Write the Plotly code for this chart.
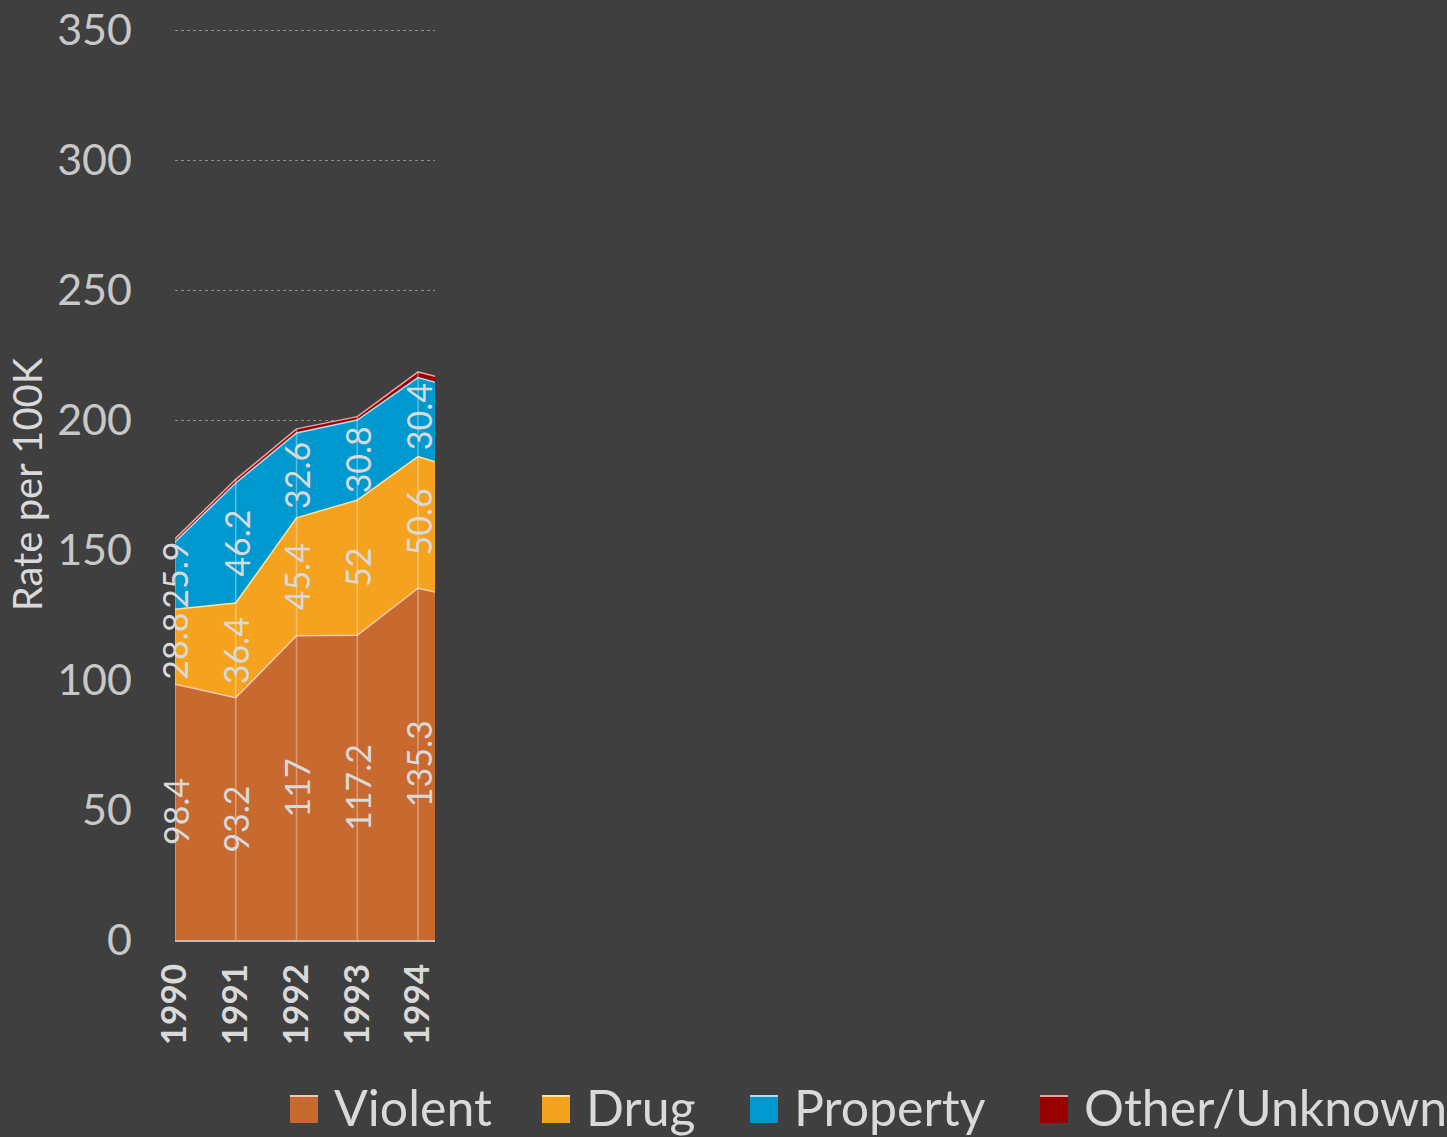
import plotly.graph_objects as go

years = [1990, 1991, 1992, 1993, 1994, 1995]
violent = [98.4, 93.2, 117, 117.2, 135.3, 130.0]
drug = [28.8, 36.4, 45.4, 52, 50.6, 49.0]
prop = [25.9, 46.2, 32.6, 30.8, 30.4, 31.0]
other = [1.2, 1.4, 1.6, 1.3, 2.2, 2.5]
label_years = [1990, 1991, 1992, 1993, 1994]
tick_vals = [1990, 1991, 1992, 1993, 1994]
tick_text = ["1990", "1991", "1992", "1993", "1994"]
y_ticks = [0, 50, 100, 150, 200, 250, 300, 350]

series = [
    ("Violent", violent, "#C8692F", "#F2C9B5"),
    ("Drug", drug, "#F5A31E", "#FFE3A0"),
    ("Property", prop, "#0099CF", "#A9DDF2"),
    ("Other/Unknown", other, "#990000", "#E8A3A3"),
]

FONT = "Lato"
TXT = "#D9D9D9"
BG = "#3F3F3F"

W, H = 1447, 1137
ML, MR, MT, MB = 175, 12, 29, 197
plot_w = W - ML - MR
plot_h = H - MT - MB

def px_x(px):
    return (px - ML) / plot_w

def px_y(py):
    return (H - MB - py) / plot_h

fig = go.Figure()
for name, vals, fc, lc in series:
    fig.add_trace(go.Scatter(
        x=years, y=vals, name=name, stackgroup="one", mode="lines",
        fillcolor=fc, line=dict(color=lc, width=1.5),
        hoverinfo="skip", showlegend=False,
    ))

# vertical drop lines inside the area
vx, vy = [], []
for i, yr in enumerate(years):
    tot = violent[i] + drug[i] + prop[i] + other[i]
    vx += [yr, yr, None]
    vy += [0, tot, None]
fig.add_trace(go.Scatter(x=vx, y=vy, mode="lines", showlegend=False,
                         line=dict(color="rgba(255,255,255,0.35)", width=1.5),
                         hoverinfo="skip"))

# value labels
for i, yr in enumerate(label_years):
    base = 0
    for name, vals, fc, lc in series[:3]:
        v = vals[i]
        fig.add_annotation(x=yr, y=base + v / 2, text=f"{v:g}", textangle=-90,
                           showarrow=False, xref="x", yref="y",
                           font=dict(family=FONT, size=34, color=TXT))
        base += v

# legend (drawn manually for large square swatches)
legend_left_px = [290, 542, 750, 1040]
sw = 28
cy = 1109
for (name, vals, fc, lc), lx in zip(series, legend_left_px):
    fig.add_shape(type="rect", xref="paper", yref="paper",
                  x0=px_x(lx), x1=px_x(lx + sw), y0=px_y(cy + sw / 2), y1=px_y(cy - sw / 2),
                  fillcolor=fc, line=dict(width=0), layer="above")
    fig.add_shape(type="line", xref="paper", yref="paper",
                  x0=px_x(lx), x1=px_x(lx + sw), y0=px_y(cy - sw / 2 + 1), y1=px_y(cy - sw / 2 + 1),
                  line=dict(color=lc, width=2), layer="above")
    fig.add_annotation(xref="paper", yref="paper", x=px_x(lx + 42), y=px_y(cy - 2),
                       xanchor="left", yanchor="middle", showarrow=False, text=name,
                       font=dict(family=FONT, size=50, color=TXT))

fig.update_layout(
    width=W, height=H,
    paper_bgcolor=BG, plot_bgcolor=BG,
    margin=dict(l=ML, r=MR, t=MT, b=MB, autoexpand=False),
    font=dict(family=FONT, color=TXT),
    showlegend=False,
    xaxis=dict(domain=[0, 260 / plot_w], range=[1990, 1994 + 17 / 61],
               tickvals=tick_vals, ticktext=[f"<b>{t}</b>" for t in tick_text],
               tickangle=-90, showgrid=False, zeroline=False, automargin=False,
               showline=True, linecolor="#BFBFBF", linewidth=2,
               ticks="", ticklabelstandoff=8,
               tickfont=dict(family=FONT, size=35, color=TXT)),
    yaxis=dict(range=[0, 350.4], tickvals=y_ticks, automargin=False,
               showgrid=True, gridcolor="#8C8C8C", griddash="dot", gridwidth=1,
               zeroline=False, showline=False, ticks="", ticklabelstandoff=42,
               tickfont=dict(family=FONT, size=43, color="#C8C8C8"),
               title=dict(text="Rate per 100K", standoff=2,
                          font=dict(family=FONT, size=40, color=TXT))),
)

fig.write_html("out.html", config={"displayModeBar": False},
               post_script="document.body.style.margin='0';document.body.style.overflow='hidden';")
